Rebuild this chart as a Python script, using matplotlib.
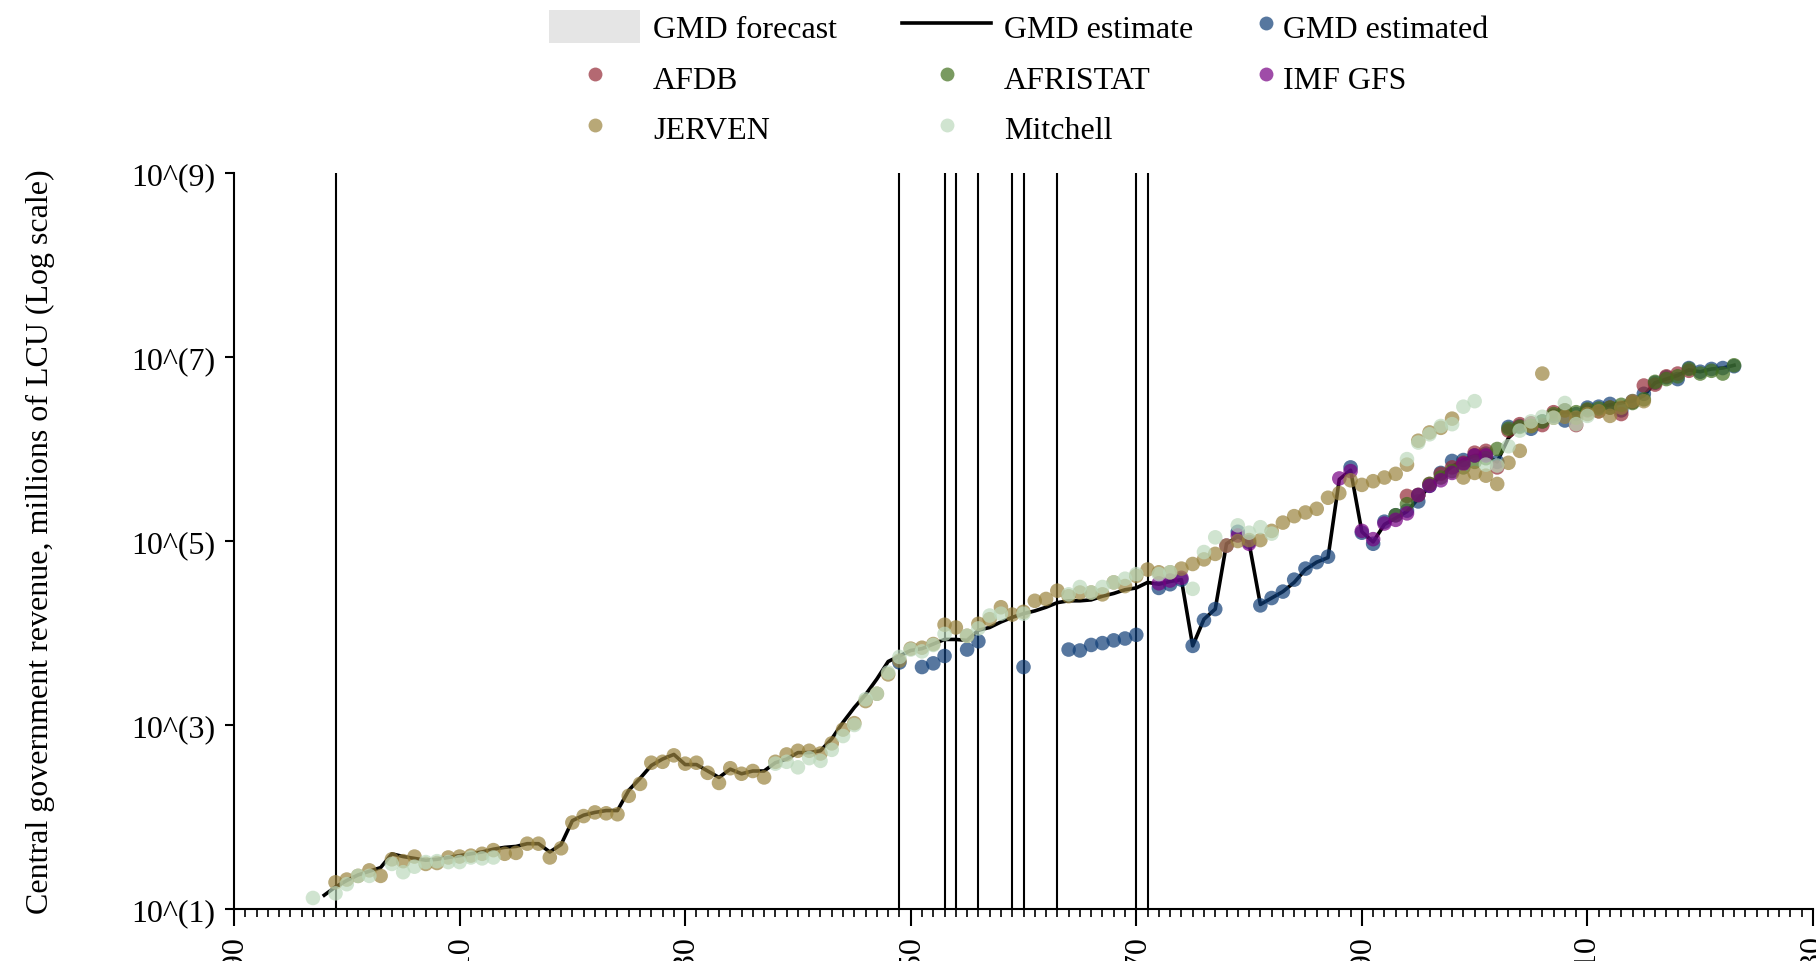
import numpy as np
import matplotlib
matplotlib.use("Agg")
import matplotlib.pyplot as plt
from matplotlib.lines import Line2D
from matplotlib.patches import Patch
from matplotlib.ticker import MultipleLocator, NullLocator

plt.rcParams["font.family"] = ["Liberation Serif", "DejaVu Serif"]
FS = 23

# ---------------------------------------------------------------
# Data (log10 of millions of LCU)
# ---------------------------------------------------------------
est_years = np.arange(1898, 2024)
est_log = [
    1.15, 1.24, 1.31, 1.37, 1.41, 1.45, 1.60, 1.57, 1.55, 1.53,   # 1898-1907
    1.54, 1.56, 1.58, 1.60, 1.62, 1.65, 1.67, 1.68, 1.71, 1.71,   # 1908-1917
    1.62, 1.70, 1.96, 2.02, 2.05, 2.07, 2.07, 2.29, 2.42, 2.56,   # 1918-1927
    2.63, 2.68, 2.57, 2.57, 2.50, 2.43, 2.52, 2.47, 2.50, 2.50,   # 1928-1937
    2.59, 2.63, 2.70, 2.70, 2.72, 2.85, 3.03, 3.19, 3.33, 3.50,   # 1938-1947
    3.69, 3.75, 3.81, 3.83, 3.88, 3.93, 3.93, 3.92, 4.03, 4.06,   # 1948-1957
    4.12, 4.17, 4.21, 4.24, 4.28, 4.33, 4.35, 4.35, 4.36, 4.40,   # 1958-1967
    4.43, 4.47, 4.49, 4.55, 4.53, 4.56, 4.58, 3.86, 4.15, 4.26,   # 1968-1977
    4.97, 5.05, 4.98, 4.31, 4.38, 4.45, 4.55, 4.69, 4.77, 4.82,   # 1978-1987
    5.67, 5.77, 5.10, 4.99, 5.18, 5.25, 5.32, 5.46, 5.59, 5.71,   # 1988-1997
    5.81, 5.88, 5.93, 5.93, 5.86, 6.12, 6.24, 6.26, 6.30, 6.36,   # 1998-2007
    6.40, 6.38, 6.44, 6.45, 6.48, 6.50, 6.52, 6.58, 6.72, 6.76,   # 2008-2017
    6.80, 6.86, 6.84, 6.87, 6.88, 6.91,                           # 2018-2023
]

gmd_pts_years = [1949, 1951, 1952, 1953, 1955, 1956, 1960, 1964, 1965, 1966,
                 1967, 1968, 1969, 1970, 1972, 1973, 1974, 1975, 1976, 1977,
                 1979, 1980, 1981, 1982, 1983, 1984, 1985, 1986, 1987, 1989,
                 1990, 1991, 1992, 1993, 1994, 1995, 1996, 1997, 1998, 1999,
                 2000, 2001, 2002, 2003, 2004, 2005, 2006, 2007, 2008, 2009,
                 2010, 2011, 2012, 2013, 2014, 2015, 2016, 2017, 2018, 2019,
                 2020, 2021, 2022, 2023]
gmd_pts_log = [3.68, 3.63, 3.67, 3.75, 3.82, 3.91, 3.63, 3.82, 3.81, 3.87,
               3.89, 3.92, 3.94, 3.98, 4.49, 4.53, 4.58, 3.86, 4.14, 4.26,
               5.10, 4.99, 4.30, 4.38, 4.45, 4.58, 4.70, 4.77, 4.83, 5.80,
               5.09, 4.97, 5.21, 5.28, 5.33, 5.43, 5.60, 5.74, 5.87, 5.88,
               5.93, 5.95, 5.86, 6.24, 6.25, 6.22, 6.30, 6.36, 6.31, 6.38,
               6.45, 6.46, 6.49, 6.42, 6.52, 6.60, 6.72, 6.78, 6.76, 6.88,
               6.84, 6.87, 6.88, 6.90]

afdb_years = np.arange(1994, 2020)
afdb_log = [5.49, 5.50, 5.62, 5.73, 5.80, 5.85, 5.96, 5.98, 5.80, 6.20,
            6.27, 6.28, 6.26, 6.40, 6.42, 6.26, 6.42, 6.41, 6.45, 6.38,
            6.51, 6.69, 6.70, 6.79, 6.82, 6.85]

afristat_years = np.arange(1993, 2024)
afristat_log = [5.28, 5.40, 5.50, 5.62, 5.69, 5.76, 5.80, 5.86, 5.90, 6.00,
                6.22, 6.24, 6.25, 6.30, 6.38, 6.42, 6.40, 6.43, 6.44, 6.45,
                6.48, 6.50, 6.54, 6.73, 6.76, 6.79, 6.87, 6.82, 6.85, 6.82,
                6.91]

imf_years = [1972, 1973, 1974, 1978, 1979, 1980, 1988, 1989, 1990, 1991,
             1992, 1993, 1994, 1995, 1996, 1997, 1998, 1999, 2000, 2001]
imf_log = [4.54, 4.57, 4.60, 4.95, 5.06, 4.97, 5.68, 5.76, 5.11, 5.02,
           5.19, 5.23, 5.30, 5.50, 5.60, 5.66, 5.74, 5.84, 5.93, 5.93]

jerven_years = np.arange(1899, 2016)
jerven_log = [
    1.29, 1.32, 1.36, 1.42, 1.36, 1.54, 1.52, 1.57, 1.49, 1.50,   # 1899-1908
    1.56, 1.57, 1.58, 1.60, 1.64, 1.60, 1.61, 1.71, 1.71, 1.56,   # 1909-1918
    1.66, 1.94, 2.01, 2.05, 2.04, 2.03, 2.23, 2.36, 2.59, 2.60,   # 1919-1928
    2.67, 2.58, 2.59, 2.48, 2.37, 2.53, 2.47, 2.50, 2.43, 2.60,   # 1929-1938
    2.68, 2.72, 2.72, 2.69, 2.80, 2.95, 3.02, 3.26, 3.34, 3.55,   # 1939-1948
    3.70, 3.83, 3.84, 3.88, 4.09, 4.06, 3.97, 4.10, 4.15, 4.28,   # 1949-1958
    4.20, 4.23, 4.35, 4.37, 4.46, 4.40, 4.44, 4.44, 4.42, 4.55,   # 1959-1968
    4.51, 4.62, 4.69, 4.66, 4.66, 4.70, 4.75, 4.80, 4.86, 4.95,   # 1969-1978
    5.00, 5.01, 5.01, 5.11, 5.20, 5.27, 5.31, 5.35, 5.47, 5.52,   # 1979-1988
    5.66, 5.61, 5.65, 5.69, 5.73, 5.83, 6.09, 6.18, 6.23, 6.33,   # 1989-1998
    5.69, 5.74, 5.71, 5.62, 5.85, 5.98, 6.25, 6.82, 6.34, 6.35,   # 1999-2008
    6.34, 6.38, 6.41, 6.36, 6.45, 6.52, 6.52,                     # 2009-2015
]

mitchell_years = [1897, 1899, 1900, 1901, 1902, 1904, 1905, 1906, 1907, 1908,
                  1909, 1910, 1911, 1912, 1913, 1938, 1939, 1940, 1941, 1942,
                  1943, 1944, 1945, 1946, 1947, 1948, 1949, 1950, 1951, 1952,
                  1953, 1955, 1956, 1957, 1958, 1960, 1964, 1965, 1966, 1967,
                  1968, 1969, 1970, 1972, 1973, 1975, 1976, 1977, 1979, 1980,
                  1981, 1982, 1994, 1995, 1996, 1997, 1998, 1999, 2000, 2001,
                  2002, 2003, 2004, 2005, 2006, 2007, 2008, 2009, 2010]
mitchell_log = [1.12, 1.17, 1.27, 1.36, 1.36, 1.49, 1.40, 1.46, 1.51, 1.52,
                1.51, 1.51, 1.56, 1.55, 1.56, 2.58, 2.60, 2.54, 2.64, 2.61,
                2.73, 2.88, 3.00, 3.28, 3.34, 3.57, 3.74, 3.82, 3.80, 3.87,
                3.99, 3.97, 4.05, 4.19, 4.21, 4.21, 4.42, 4.50, 4.44, 4.50,
                4.55, 4.59, 4.64, 4.64, 4.66, 4.48, 4.88, 5.04, 5.17, 5.09,
                5.15, 5.08, 5.89, 6.07, 6.16, 6.25, 6.27, 6.46, 6.52, 5.83,
                5.82, 6.03, 6.20, 6.30, 6.35, 6.34, 6.50, 6.27, 6.36]

# Currency / regime break years (vertical lines)
break_years = [1899, 1949, 1953, 1954, 1956, 1959, 1960, 1963, 1970, 1971]

x_ticks = [1890, 1910, 1930, 1950, 1970, 1990, 2010, 2030]
y_ticks = [1, 3, 5, 7, 9]
y_labels = ["10^(1)", "10^(3)", "10^(5)", "10^(7)", "10^(9)"]

# ---------------------------------------------------------------
# Colours
# ---------------------------------------------------------------
C_FORECAST = "#e5e5e5"
C_GMD = "#103e77"
C_AFDB = "#942a36"
C_AFRISTAT = "#416f1c"
C_IMF = "#770083"
C_JERVEN = "#9a833e"
C_MITCHELL = "#bcd9bc"
ALPHA = 0.7
S = 110

W, H = 1816, 962
fig = plt.figure(figsize=(W / 100, H / 100), dpi=100)
ax = fig.add_axes([234 / W, 1 - 910 / H, 1579 / W, 736 / H])

for yr in break_years:
    ax.axvline(yr, color="black", lw=1.5, zorder=1)

ax.plot(est_years, 10 ** np.array(est_log), color="black", lw=2.6, zorder=2)

series = [
    (gmd_pts_years, gmd_pts_log, C_GMD),
    (afdb_years, afdb_log, C_AFDB),
    (afristat_years, afristat_log, C_AFRISTAT),
    (imf_years, imf_log, C_IMF),
    (jerven_years, jerven_log, C_JERVEN),
    (mitchell_years, mitchell_log, C_MITCHELL),
]
for i, (xs, ys, col) in enumerate(series):
    ax.scatter(xs, 10 ** np.array(ys), s=S, color=col, alpha=ALPHA,
               edgecolors="none", zorder=3 + i)

ax.set_yscale("log")
ax.set_ylim(10 ** 1, 10 ** 9)
ax.set_xlim(1890, 2030)
ax.set_yticks([10 ** v for v in y_ticks])
ax.set_yticklabels(y_labels)
ax.yaxis.set_minor_locator(NullLocator())
ax.set_xticks(x_ticks)
ax.set_xticklabels([str(t) for t in x_ticks], rotation=90)
ax.xaxis.set_minor_locator(MultipleLocator(1))

for side in ["top", "right"]:
    ax.spines[side].set_visible(False)
for side in ["left", "bottom"]:
    ax.spines[side].set_linewidth(1.5)

ax.tick_params(axis="x", which="major", length=12, width=1.5, pad=6, labelsize=FS)
ax.tick_params(axis="x", which="minor", length=5.5, width=1.2)
ax.tick_params(axis="y", which="major", length=6.5, width=1.5, pad=7, labelsize=FS)

ax.set_ylabel("Central government revenue, millions of LCU (Log scale)", fontsize=FS)
ax.yaxis.set_label_coords(-0.1134, 0.5)

# ---------------------------------------------------------------
# Legend: three columns built as separate legends
# ---------------------------------------------------------------
def dot(col):
    return Line2D([], [], ls="", marker="o", markersize=10, color=col,
                  alpha=ALPHA, markeredgewidth=0)

col1 = [(Patch(facecolor=C_FORECAST, edgecolor="none"), "GMD forecast"),
        (dot(C_AFDB), "AFDB"), (dot(C_JERVEN), "JERVEN")]
col2 = [(Line2D([], [], color="black", lw=2.6), "GMD estimate"),
        (dot(C_AFRISTAT), "AFRISTAT"), (dot(C_MITCHELL), "Mitchell")]
col3 = [(dot(C_GMD), "GMD estimated"), (dot(C_IMF), "IMF GFS")]

for entries, x0, hl, tp in [(col1, 549, 2.85, 0.4), (col2, 902, 2.8, 0.4),
                            (col3, 1256, 0.6, 0.25)]:
    fig.legend([e[0] for e in entries], [e[1] for e in entries],
               loc="upper left", bbox_to_anchor=(x0 / W, 1 - 10.5 / H),
               frameon=False, fontsize=FS, borderpad=0, borderaxespad=0,
               handlelength=hl, handleheight=1.25, handletextpad=tp,
               labelspacing=0.5)

fig.savefig("out.png", dpi=100)
